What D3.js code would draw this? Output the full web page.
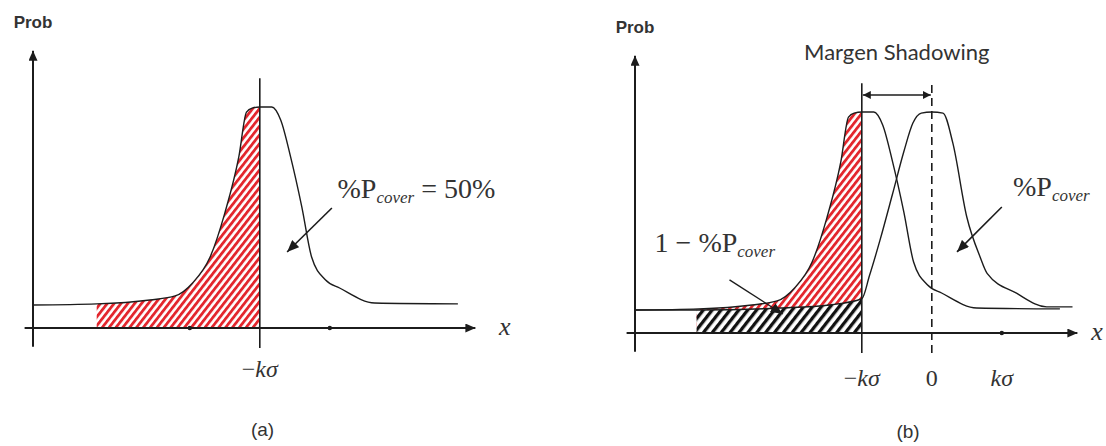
<!DOCTYPE html>
<html>
<head>
<meta charset="utf-8">
<script src="https://cdn.jsdelivr.net/npm/d3@7"></script>
<style>
  body { margin: 0; background: #fff; }
  svg { display: block; }
</style>
</head>
<body>
<svg></svg>
<script>
const svgWidth = 1106;
const svgHeight = 446;

// curve of the covered distribution (x in units of k*sigma, y as peak = 1)
const coverU = [-4.24, -3.33, -2.57, -2.21, -1.96, -1.71, -1.5, -1.3, -1.19, -1.11, -1.0, -0.83, -0.7, -0.56, -0.4, -0.26, -0.06, 0.14, 0.64, 1.83];
const coverP = [0.104, 0.109, 0.127, 0.145, 0.204, 0.321, 0.52, 0.774, 0.977, 0.995, 1.0, 1.0, 0.94, 0.774, 0.548, 0.321, 0.217, 0.181, 0.113, 0.109];

// curve shifted by the margin (panel b, centred at 0)
const shiftU = [-4.24, -3.36, -2.17, -1.46, -1.0, -0.89, -0.74, -0.56, -0.4, -0.27, -0.15, 0, 0.16, 0.3, 0.5, 0.69, 0.79, 1.21, 1.64, 2.01];
const shiftP = [0.104, 0.104, 0.113, 0.127, 0.155, 0.26, 0.42, 0.63, 0.82, 0.95, 0.995, 1.0, 0.995, 0.86, 0.525, 0.344, 0.27, 0.18, 0.118, 0.118];

// hatched ranges
const hatchA = [-3.33, -1.0];
const hatchB = [-3.36, -1.0];

// tick labels and dots on the x axis
const tickValuesA = [-1];
const tickLabelsA = [["−", "kσ"]];
const tickValuesB = [-1, 0, 1];
const tickLabelsB = [["−", "kσ"], ["0", ""], ["", "kσ"]];
const dotsA = [-2, 0];
const dotsB = [1];

const svg = d3.select("svg")
    .attr("width", svgWidth)
    .attr("height", svgHeight);

const x = d3.scaleLinear().domain([-4.24, 2.06]).range([33, 474]);
const y = d3.scaleLinear().domain([0, 1]).range([328, 107]);

const ink = "#1c1c1c";
const serif = "'Liberation Serif', 'DejaVu Serif', serif";
const sans = "'Liberation Sans', Arial, sans-serif";

const defs = svg.append("defs");

function hatch(id, size, bar, color) {
    const p = defs.append("pattern")
        .attr("id", id)
        .attr("width", size)
        .attr("height", size)
        .attr("patternUnits", "userSpaceOnUse")
        .attr("patternTransform", "rotate(38)");
    p.append("rect").attr("width", size).attr("height", size).attr("fill", "#fff");
    p.append("rect").attr("width", bar).attr("height", size).attr("fill", color);
}
hatch("redHatch", 5.4, 2.8, "#e3262d");
hatch("blackHatch", 7, 3.3, "#111");

function marker(id, len, half) {
    defs.append("marker")
        .attr("id", id)
        .attr("markerUnits", "userSpaceOnUse")
        .attr("markerWidth", len)
        .attr("markerHeight", half * 2)
        .attr("refX", len)
        .attr("refY", half)
        .attr("orient", "auto-start-reverse")
        .append("path")
        .attr("d", `M0,0L${len},${half}L0,${half * 2}Z`)
        .attr("fill", ink);
}
marker("axisHead", 10, 4.5);
marker("noteHead", 12, 5);
marker("smallHead", 8, 4);

const line = d3.line()
    .x(d => x(d[0]))
    .y(d => y(d[1]))
    .curve(d3.curveMonotoneX);

const areaUnder = d3.area()
    .x(d => x(d[0]))
    .y0(y(0))
    .y1(d => y(d[1]))
    .curve(d3.curveMonotoneX);

const cover = d3.zip(coverU, coverP);
const shifted = d3.zip(shiftU, shiftP);

function clipRange(id, range) {
    defs.append("clipPath").attr("id", id)
        .append("rect")
        .attr("x", x(range[0]))
        .attr("y", 0)
        .attr("width", x(range[1]) - x(range[0]))
        .attr("height", y(0));
}
clipRange("clipA", hatchA);
clipRange("clipB", hatchB);

function mathLabel(g, u, p, parts, size, anchor) {
    const t = g.append("text")
        .attr("x", x(u))
        .attr("y", y(p))
        .attr("text-anchor", anchor)
        .attr("font-family", serif)
        .attr("font-size", size)
        .attr("fill", "#333");
    parts.forEach(s => {
        const ts = t.append("tspan").text(s.t);
        if (s.it) ts.attr("font-style", "italic");
        if (s.sub) ts.attr("font-size", s.sub).attr("dy", 5);
        if (s.up) ts.attr("dy", -5);
    });
    return t;
}

function drawAxes(g, ticks, labels, dots, labelP, xLabelU) {
    // y axis
    g.append("line")
        .attr("x1", x(-4.24)).attr("y1", y(-0.085))
        .attr("x2", x(-4.24)).attr("y2", y(1.255))
        .attr("stroke", ink).attr("stroke-width", 2)
        .attr("marker-end", "url(#axisHead)");
    // x axis
    g.append("line")
        .attr("x1", x(-4.36)).attr("y1", y(0))
        .attr("x2", x(2.08)).attr("y2", y(0))
        .attr("stroke", ink).attr("stroke-width", 2)
        .attr("marker-end", "url(#axisHead)");

    g.append("text")
        .attr("x", x(-4.24)).attr("y", y(1.357))
        .attr("text-anchor", "middle")
        .attr("font-family", sans).attr("font-weight", "bold")
        .attr("font-size", 17).attr("fill", "#333")
        .text("Prob");

    g.append("text")
        .attr("x", x(xLabelU)).attr("y", y(-0.03))
        .attr("text-anchor", "middle")
        .attr("font-family", serif).attr("font-style", "italic")
        .attr("font-size", 26).attr("fill", "#333")
        .text("x");

    g.selectAll(".dot")
        .data(dots)
        .enter().append("circle")
        .attr("cx", d => x(d)).attr("cy", y(0))
        .attr("r", 2.2).attr("fill", ink);

    ticks.forEach((u, i) => {
        const t = g.append("text")
            .attr("x", x(u)).attr("y", y(labelP))
            .attr("text-anchor", "middle")
            .attr("font-family", serif).attr("font-size", 24)
            .attr("fill", "#333");
        if (labels[i][0]) t.append("tspan").text(labels[i][0]);
        if (labels[i][1]) t.append("tspan").attr("font-style", "italic").text(labels[i][1]);
    });
}

// ---------- panel (a) ----------
const ga = svg.append("g");

ga.append("path")
    .datum(cover)
    .attr("d", areaUnder)
    .attr("fill", "url(#redHatch)")
    .attr("clip-path", "url(#clipA)");

ga.append("line")
    .attr("x1", x(-1)).attr("y1", y(-0.09))
    .attr("x2", x(-1)).attr("y2", y(1.13))
    .attr("stroke", ink).attr("stroke-width", 1.6);

ga.append("path")
    .datum(cover)
    .attr("d", line)
    .attr("fill", "none").attr("stroke", ink).attr("stroke-width", 1.4);

drawAxes(ga, tickValuesA, tickLabelsA, dotsA, -0.222, 2.5);

mathLabel(ga, 0.11, 0.588, [{ t: "%P" }, { t: "cover", it: true, sub: 17 }, { t: " = 50%", up: true }], 28, "start");

ga.append("line")
    .attr("x1", x(0.03)).attr("y1", y(0.543))
    .attr("x2", x(-0.61)).attr("y2", y(0.344))
    .attr("stroke", ink).attr("stroke-width", 1.6)
    .attr("marker-end", "url(#noteHead)");

ga.append("text")
    .attr("x", x(-0.96)).attr("y", y(-0.49))
    .attr("text-anchor", "middle")
    .attr("font-family", sans).attr("font-size", 19).attr("fill", "#333")
    .text("(a)");

// ---------- panel (b) ----------
const gb = svg.append("g").attr("transform", "translate(602,5)");

gb.append("path")
    .datum(cover)
    .attr("d", areaUnder)
    .attr("fill", "url(#redHatch)")
    .attr("clip-path", "url(#clipB)");

gb.append("path")
    .datum(shifted)
    .attr("d", areaUnder)
    .attr("fill", "url(#blackHatch)")
    .attr("clip-path", "url(#clipB)");

gb.append("line")
    .attr("x1", x(-1)).attr("y1", y(-0.09))
    .attr("x2", x(-1)).attr("y2", y(1.13))
    .attr("stroke", ink).attr("stroke-width", 1.6);

gb.append("line")
    .attr("x1", x(0)).attr("y1", y(-0.09))
    .attr("x2", x(0)).attr("y2", y(1.13))
    .attr("stroke", ink).attr("stroke-width", 1.6)
    .attr("stroke-dasharray", "8,5");

[cover, shifted].forEach(c => {
    gb.append("path")
        .datum(c)
        .attr("d", line)
        .attr("fill", "none").attr("stroke", ink).attr("stroke-width", 1.4);
});

drawAxes(gb, tickValuesB, tickLabelsB, dotsB, -0.24, 2.36);

// margin bracket
gb.append("line")
    .attr("x1", x(-1) + 1).attr("y1", y(1.077))
    .attr("x2", x(0) - 1).attr("y2", y(1.077))
    .attr("stroke", ink).attr("stroke-width", 1.4)
    .attr("marker-start", "url(#smallHead)")
    .attr("marker-end", "url(#smallHead)");

gb.append("text")
    .attr("x", x(-0.5)).attr("y", y(1.235))
    .attr("text-anchor", "middle")
    .attr("font-family", "Lato, 'Open Sans', sans-serif").attr("font-size", 22)
    .attr("fill", "#333")
    .text("Margen Shadowing");

mathLabel(gb, 1.16, 0.62, [{ t: "%P" }, { t: "cover", it: true, sub: 17 }], 28, "start");

gb.append("line")
    .attr("x1", x(1.0)).attr("y1", y(0.57))
    .attr("x2", x(0.36)).attr("y2", y(0.367))
    .attr("stroke", ink).attr("stroke-width", 1.6)
    .attr("marker-end", "url(#noteHead)");

mathLabel(gb, -3.96, 0.367, [{ t: "1 − %P" }, { t: "cover", it: true, sub: 17 }], 28, "start");

gb.append("line")
    .attr("x1", x(-2.89)).attr("y1", y(0.24))
    .attr("x2", x(-2.13)).attr("y2", y(0.086))
    .attr("stroke", ink).attr("stroke-width", 1.4)
    .attr("marker-end", "url(#noteHead)");

gb.append("text")
    .attr("x", x(-0.34)).attr("y", y(-0.475))
    .attr("text-anchor", "middle")
    .attr("font-family", sans).attr("font-size", 19).attr("fill", "#333")
    .text("(b)");
</script>
</body>
</html>
